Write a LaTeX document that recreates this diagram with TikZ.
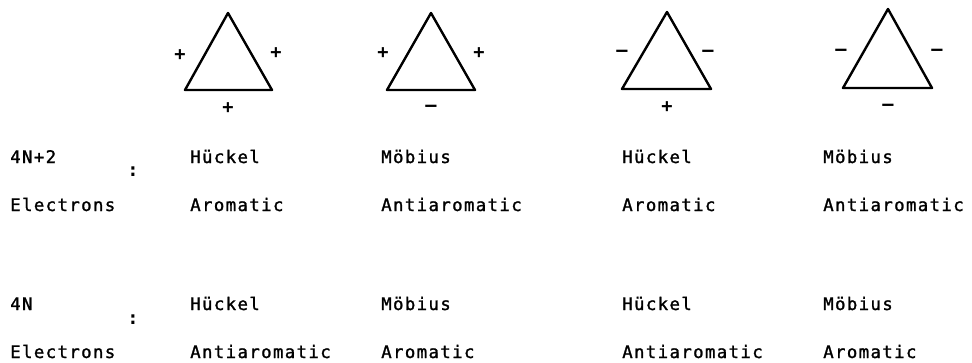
\documentclass[tikz,border=0pt]{standalone}
\usepackage{fontspec}
\newfontfamily\lblfont[LetterSpace=8,FakeBold=1.4]{DejaVu Sans Mono}
\newfontfamily\sgnfont{DejaVu Sans Mono Bold}
\usepackage{tikz}
\usetikzlibrary{positioning}

\tikzset{
  txt/.style={anchor=base west,inner sep=0pt,font=\lblfont\fontsize{13}{15}\selectfont},
  sgn/.style={inner sep=0pt,font=\sgnfont\fontsize{14}{16}\selectfont},
  ring/.style={line width=1.8pt,line join=round}
}

\begin{document}
\begin{tikzpicture}[x=0.75pt,y=-0.75pt]
 \useasboundingbox (0,0) rectangle (972,362);
 % the four rings
 \draw[ring] (228,13) -- (272,90) -- (185,90) -- cycle;
 \draw[ring] (431,13) -- (475,90) -- (387,90) -- cycle;
 \draw[ring] (667,12) -- (711,89) -- (622,89) -- cycle;
 \draw[ring] (888,9) -- (932,88) -- (843,88) -- cycle;
 % phases of the overlaps
 \node[sgn] (p1l) at (180,55) {+};
 \node[sgn] (p1r) at (276,53) {+};
 \node[sgn] (p1b) at (228,108) {+};
 \node[sgn] (p2l) at (383,53) {+};
 \node[sgn] (p2r) at (479,53) {+};
 \node[sgn] (p2b) at (431,108) {–};
 \node[sgn] (p3l) at (622,53) {–};
 \node[sgn] (p3r) at (708,53) {–};
 \node[sgn] (p3b) at (667,107) {+};
 \node[sgn] (p4l) at (841,52) {–};
 \node[sgn] (p4r) at (937,52) {–};
 \node[sgn] (p4b) at (888,107) {–};
 % 4N+2 electrons
 \node[txt] (n42) at (10,163) {4N+2};
 \node[sgn] (c1) at (133,172) {:};
 \node[txt] (e1) at (10,211) {Electrons};
 \node[txt] (h1) at (190,163) {Hückel};
 \node[txt] (m1) at (381,163) {Möbius};
 \node[txt] (h2) at (622,163) {Hückel};
 \node[txt] (m2) at (823,163) {Möbius};
 \node[txt] (a1) at (190,211) {Aromatic};
 \node[txt] (a2) at (381,211) {Antiaromatic};
 \node[txt] (a3) at (622,211) {Aromatic};
 \node[txt] (a4) at (823,211) {Antiaromatic};
 % 4N electrons
 \node[txt] (n4) at (10,310) {4N};
 \node[sgn] (c2) at (133,320) {:};
 \node[txt] (e2) at (10,358) {Electrons};
 \node[txt] (h3) at (190,310) {Hückel};
 \node[txt] (m3) at (381,310) {Möbius};
 \node[txt] (h4) at (622,310) {Hückel};
 \node[txt] (m4) at (823,310) {Möbius};
 \node[txt] (b1) at (190,358) {Antiaromatic};
 \node[txt] (b2) at (381,358) {Aromatic};
 \node[txt] (b3) at (622,358) {Antiaromatic};
 \node[txt] (b4) at (823,358) {Aromatic};
\end{tikzpicture}
\end{document}
